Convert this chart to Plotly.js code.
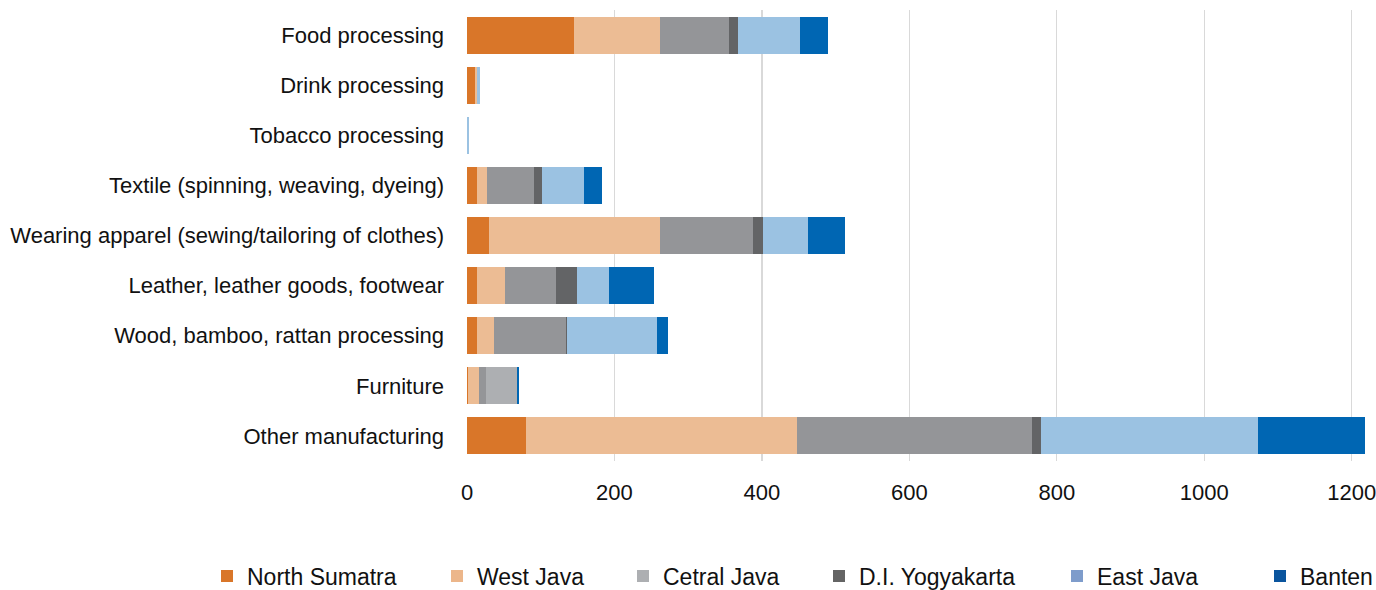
<!DOCTYPE html>
<html>
<head>
<meta charset="utf-8">
<script src="https://cdn.plot.ly/plotly-3.0.1.min.js"></script>
<style>
  html, body { margin: 0; padding: 0; background: #fff; }
  #chart { width: 1376px; height: 590px; }
</style>
</head>
<body>
<div id="chart"></div>
<script>
// ---- Data ----
const categories = [
  'Food processing',
  'Drink processing',
  'Tobacco processing',
  'Textile (spinning, weaving, dyeing)',
  'Wearing apparel (sewing/tailoring of clothes)',
  'Leather, leather goods, footwear',
  'Wood, bamboo, rattan processing',
  'Furniture',
  'Other manufacturing'
];
const seriesNames = ['North Sumatra', 'West Java', 'Cetral Java', 'D.I. Yogyakarta', 'East Java', 'Banten'];
const northSumatra = [145, 11, 0, 14, 30, 14, 13.5, 1, 80];
const westJava     = [117, 2.5, 0, 13, 232, 37, 23, 15, 367];
const cetralJava   = [93, 0, 0, 64, 126, 70, 98, 9.5, 319];
const yogyakarta   = [12, 0, 0, 11, 13, 28, 1.5, 42, 12];
const eastJava     = [84, 4, 2.5, 56, 61, 44, 122, 0, 295];
const banten       = [38, 0, 0, 25, 50, 61, 14, 2.7, 145];
const xTickVals = [0, 200, 400, 600, 800, 1000, 1200];

// ---- Styles ----
const barColors = ['#D97629', '#ECBC94', '#949598', '#636466', '#9BC2E2', '#0066B3'];
const legendColors = ['#D97629', '#ECB68A', '#ADAFB2', '#646464', '#7E9CCB', '#0B559E'];
const furnitureOverride = '#ADAFB2';
const legendX = [207, 437, 623, 819, 1057, 1260];

const values = [northSumatra, westJava, cetralJava, yogyakarta, eastJava, banten];
const traces = [];
values.forEach((vals, i) => {
  let color = barColors[i];
  if (i === 3) {
    color = categories.map(c => c === 'Furniture' ? furnitureOverride : barColors[i]);
  }
  traces.push({
    type: 'bar', orientation: 'h',
    y: categories, x: vals,
    name: seriesNames[i],
    marker: { color: color, line: { width: 0 } },
    showlegend: false,
    hoverinfo: 'x+y+name'
  });
});
// legend-only entries (zero-length, invisible bars)
seriesNames.forEach((n, i) => {
  traces.push({
    type: 'bar', orientation: 'h',
    y: [categories[0]], x: [0],
    name: n,
    marker: { color: legendColors[i], line: { width: 0 } },
    showlegend: true,
    legend: i === 0 ? 'legend' : 'legend' + (i + 1)
  });
});

const font = { family: 'Liberation Sans, Arial, sans-serif', size: 22, color: '#111' };
const legendFont = { family: 'Liberation Sans, Arial, sans-serif', size: 23, color: '#111' };
const layout = {
  width: 1376, height: 590,
  margin: { l: 467, r: 8, t: 10, b: 129 },
  paper_bgcolor: '#fff', plot_bgcolor: '#fff',
  font: font,
  barmode: 'stack',
  bargap: 0.262,
  xaxis: {
    range: [0, 1222],
    tickvals: xTickVals,
    ticktext: xTickVals.map(String),
    showgrid: true, gridcolor: '#D9D9D9', gridwidth: 1.3,
    zeroline: false, showline: false, ticks: '',
    ticklabelstandoff: 16,
    ticklabeloverflow: 'allow',
    tickfont: font,
    fixedrange: true
  },
  yaxis: {
    autorange: 'reversed',
    type: 'category',
    showgrid: false, zeroline: false, showline: false, ticks: '',
    ticklabelstandoff: 22,
    tickfont: font,
    fixedrange: true
  }
};
seriesNames.forEach((n, i) => {
  const key = i === 0 ? 'legend' : 'legend' + (i + 1);
  layout[key] = {
    orientation: 'h',
    xref: 'container', yref: 'container',
    x: legendX[i] / 1376, xanchor: 'left',
    y: 1 - 576 / 590, yanchor: 'middle',
    bgcolor: 'rgba(0,0,0,0)',
    font: legendFont
  };
});

Plotly.newPlot('chart', traces, layout, { displayModeBar: false, staticPlot: true });
</script>
</body>
</html>
